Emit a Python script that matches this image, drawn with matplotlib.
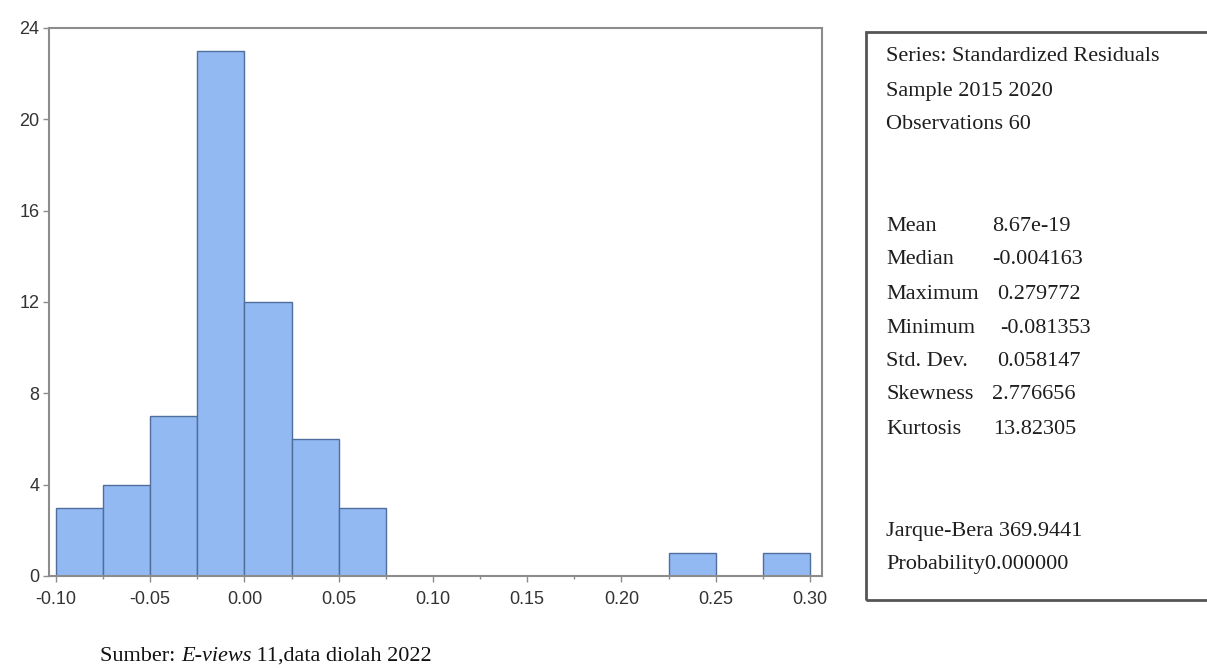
"""Histogram of standardized residuals with E-views style stats panel."""

import matplotlib.pyplot as plt
from matplotlib.patches import Rectangle
from matplotlib.ticker import MultipleLocator

# bin left edges and counts (bin width 0.025)
BIN_LEFT = [-0.100, -0.075, -0.050, -0.025, 0.000, 0.025, 0.050, 0.075,
            0.100, 0.125, 0.150, 0.175, 0.200, 0.225, 0.250, 0.275]
COUNTS = [3, 4, 7, 23, 12, 6, 3, 0, 0, 0, 0, 0, 0, 1, 0, 1]
BIN_WIDTH = 0.025

X_TICKS = [-0.10, -0.05, 0.00, 0.05, 0.10, 0.15, 0.20, 0.25, 0.30]
X_TICK_LABELS = ["-0.10", "-0.05", "0.00", "0.05", "0.10", "0.15", "0.20", "0.25", "0.30"]
Y_TICKS = [0, 4, 8, 12, 16, 20, 24]

HEADER_LINES = ["Series: Standardized Residuals", "Sample 2015 2020", "Observations 60"]
STAT_NAMES = ["Mean", "Median", "Maximum", "Minimum", "Std. Dev.", "Skewness", "Kurtosis"]
STAT_VALUES = ["8.67e-19", "-0.004163", "0.279772", "-0.081353", "0.058147", "2.776656", "13.82305"]
TEST_LINES = ["Jarque-Bera 369.9441", "Probability0.000000"]

BAR_COLOR = "#93B9F2"
EDGE_COLOR = "#4F6E9C"
SPINE_COLOR = "#8C8C8C"
TICK_TEXT = "#333333"

SERIF = ["Liberation Serif", "DejaVu Serif"]
SANS = ["Liberation Sans", "DejaVu Sans"]

W, H = 1207, 668


def px_x(x):
    return x / W


def px_y(y):
    return 1 - y / H


fig = plt.figure(figsize=(W / 100, H / 100), dpi=100)
ax = fig.add_axes([px_x(49), px_y(576), (822 - 49) / W, (576 - 28) / H])

ax.bar(BIN_LEFT, COUNTS, width=BIN_WIDTH, align="edge",
       color=BAR_COLOR, edgecolor=EDGE_COLOR, linewidth=1.0)

ax.set_xlim(-0.1037, 0.3064)
ax.set_ylim(0, 24)
ax.set_xticks(X_TICKS)
ax.set_xticklabels(X_TICK_LABELS)
ax.set_yticks(Y_TICKS)
ax.xaxis.set_minor_locator(MultipleLocator(0.025))

for spine in ax.spines.values():
    spine.set_color(SPINE_COLOR)
    spine.set_linewidth(1.5)

ax.tick_params(axis="both", which="major", direction="out", length=4, width=1,
               color=SPINE_COLOR, labelcolor=TICK_TEXT, labelsize=13)
ax.tick_params(axis="x", which="major", pad=7)
ax.tick_params(axis="y", which="major", pad=3)
ax.tick_params(axis="x", which="minor", direction="out", length=2, width=1,
               color=SPINE_COLOR)
for label in ax.get_xticklabels() + ax.get_yticklabels():
    label.set_family(SANS)

# stats panel (right edge runs off the image)
fig.patches.append(Rectangle((px_x(866), px_y(600)), (1230 - 866) / W, (600 - 32) / H,
                             transform=fig.transFigure, fill=False,
                             edgecolor="#555555", linewidth=2.0, clip_on=False))

# row baselines in pixels from the top
text_kw = dict(family=SERIF, fontsize=16, color="#1e1e1e", va="baseline")
x_label = px_x(886)
header_y = [61, 96, 129]
stat_y = [231, 264, 299, 333, 366, 399, 434]
value_x = [992, 992, 997, 1000, 997, 992, 993]
test_y = [536, 569]

for y, line in zip(header_y, HEADER_LINES):
    fig.text(x_label, px_y(y), line, **text_kw)
for y, vx, name, value in zip(stat_y, value_x, STAT_NAMES, STAT_VALUES):
    fig.text(x_label, px_y(y), name, **text_kw)
    fig.text(px_x(vx), px_y(y), value, **text_kw)
for y, line in zip(test_y, TEST_LINES):
    fig.text(x_label, px_y(y), line, **text_kw)

# source caption with italic program name
cap_kw = dict(family=SERIF, fontsize=16, color="#111111", va="baseline")
cap_y = px_y(661)
fig.canvas.draw()
renderer = fig.canvas.get_renderer()
t1 = fig.text(px_x(100), cap_y, "Sumber: ", **cap_kw)
bb1 = t1.get_window_extent(renderer)
t2 = fig.text(bb1.x1 / W, cap_y, "E-views", style="italic", **cap_kw)
bb2 = t2.get_window_extent(renderer)
fig.text(bb2.x1 / W, cap_y, " 11,data diolah 2022", **cap_kw)

fig.savefig("out.png", dpi=100)
